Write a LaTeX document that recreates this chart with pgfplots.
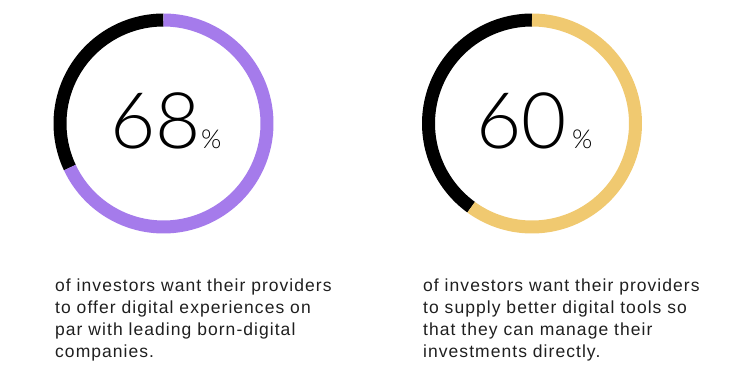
\documentclass[border=0pt]{standalone}
\usepackage{pgfplots}
\pgfplotsset{compat=1.18}
\usepgfplotslibrary{polar}
\usepackage{fontspec}
\setmainfont{Liberation Sans}[LetterSpace=6]
\newfontfamily\lightfont{Lato}[UprightFont={* Light}]
\definecolor{purp}{HTML}{A57BEB}
\definecolor{yel}{HTML}{F0C970}
\def\valA{68}
\def\valB{60}
\begin{document}
\begin{tikzpicture}
\path[use as bounding box] (0,0) rectangle (750pt,383pt);
% left donut
\begin{polaraxis}[at={(163.5pt,259.5pt)}, anchor=origin, width=220pt, height=220pt, scale only axis,
  ymin=0, ymax=110, hide axis, clip=false]
  \addplot[black, line width=13pt, domain={90-3.6*\valA}:{-270}, samples=80, no markers] {103.5};
  \addplot[purp, line width=13pt, domain={90}:{90-3.6*\valA}, samples=160, no markers] {103.5};
\end{polaraxis}
% right donut
\begin{polaraxis}[at={(532pt,259.5pt)}, anchor=origin, width=220pt, height=220pt, scale only axis,
  ymin=0, ymax=110, hide axis, clip=false]
  \addplot[black, line width=13pt, domain={90-3.6*\valB}:{-270}, samples=80, no markers] {103.5};
  \addplot[yel, line width=13pt, domain={90}:{90-3.6*\valB}, samples=160, no markers] {103.5};
\end{polaraxis}
% big numbers
\node[anchor=base west, inner sep=0, font=\lightfont\fontsize{78}{78}\selectfont] at (110pt,234pt) {68};
\node[anchor=base west, inner sep=0, font=\lightfont\fontsize{26}{26}\selectfont] at (201pt,234pt) {\%};
\node[anchor=base west, inner sep=0, font=\lightfont\fontsize{78}{78}\selectfont] at (476pt,234pt) {60};
\node[anchor=base west, inner sep=0, font=\lightfont\fontsize{26}{26}\selectfont] at (572pt,234pt) {\%};
% body text
\begin{scope}[every node/.style={anchor=base west, inner sep=0, text=black!88, font=\fontsize{17.5}{21}\selectfont}]
\node at (55pt,91pt) {of investors want their providers};
\node at (55pt,69.3pt) {to offer digital experiences on};
\node at (55pt,47.6pt) {par with leading born-digital};
\node at (55pt,25.9pt) {companies.};
\node at (423pt,91pt) {of investors want their providers};
\node at (423pt,69.3pt) {to supply better digital tools so};
\node at (423pt,47.6pt) {that they can manage their};
\node at (423pt,25.9pt) {investments directly.};
\end{scope}
\end{tikzpicture}
\end{document}
